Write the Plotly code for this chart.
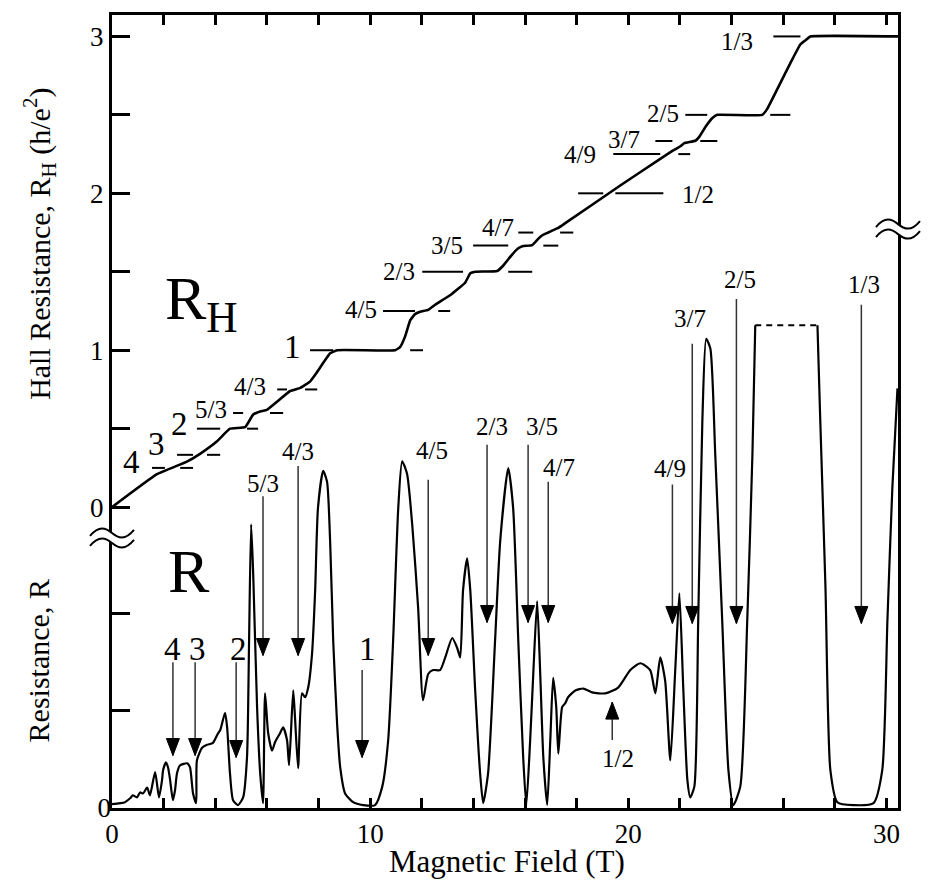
import plotly.graph_objects as go

# ---------------- Hall resistance R_H (h/e^2) versus magnetic field B (T)
hall_B = [0, 1.74, 2.90, 3.41, 4.07, 4.57, 5.16, 5.47, 5.74, 6.00, 6.90, 7.29, 7.67, 7.94,
          8.45, 8.72, 10.97, 11.16, 11.36, 11.55, 11.74, 11.94, 12.25, 12.52, 13.10, 13.68,
          13.88, 14.07, 14.92, 15.16, 15.50, 15.74, 15.90, 16.28, 16.51, 16.67, 16.90, 17.09,
          17.29, 17.56, 19.69, 21.24, 21.71, 22.02, 22.17, 22.60, 22.75, 23.02, 23.26, 23.45,
          25.19, 25.39, 26.28, 26.67, 26.90, 27.05, 30.45]
hall_RH = [0, 0.21, 0.29, 0.34, 0.42, 0.50, 0.51, 0.59, 0.61, 0.62, 0.74, 0.76, 0.80, 0.86,
           0.98, 1.00, 1.00, 1.02, 1.09, 1.19, 1.23, 1.245, 1.257, 1.29, 1.35, 1.43,
           1.49, 1.50, 1.505, 1.54, 1.61, 1.65, 1.663, 1.67, 1.71, 1.733, 1.75, 1.765,
           1.78, 1.81, 2.05, 2.22, 2.27, 2.30, 2.32, 2.335, 2.36, 2.43, 2.48, 2.50,
           2.50, 2.54, 2.83, 2.95, 2.98, 3.00, 3.00]

# ---------------- longitudinal resistance R (arb. units) versus B (T)
res_B = [0.00, 0.50, 0.70, 0.81, 0.97, 1.09, 1.20, 1.36, 1.47, 1.67, 1.82, 1.94, 1.98, 2.09,
         2.17, 2.25, 2.36, 2.44, 2.52, 2.64, 2.91, 3.02, 3.14, 3.26, 3.29, 3.49, 3.68, 3.91,
         4.11, 4.19, 4.38, 4.46, 4.57, 4.69, 4.88, 5.08, 5.23, 5.31, 5.39, 5.47, 5.62, 5.74,
         5.85, 5.93, 6.05, 6.20, 6.32, 6.51, 6.63, 6.78, 6.86, 7.02, 7.09, 7.21, 7.36, 7.48,
         7.60, 7.75, 7.87, 7.98, 8.18, 8.33, 8.45, 8.57, 8.72, 8.84, 9.03, 9.34, 9.73, 10.19,
         10.47, 10.70, 10.89, 11.09, 11.24, 11.43, 11.63, 11.86, 12.05, 12.25, 12.44, 12.71,
         12.91, 13.18, 13.37, 13.49, 13.60, 13.76, 13.88, 14.07, 14.26, 14.38, 14.57, 14.84,
         15.04, 15.35, 15.54, 15.74, 15.93, 16.05, 16.20, 16.32, 16.47, 16.59, 16.71, 16.86,
         16.98, 17.09, 17.21, 17.29, 17.44, 17.56, 17.67, 17.95, 18.26, 18.60, 19.11, 19.61,
         20.08, 20.47, 20.85, 21.05, 21.24, 21.43, 21.63, 21.82, 21.98, 22.13, 22.29, 22.40,
         22.56, 22.71, 22.87, 23.02, 23.18, 23.37, 23.64, 23.88, 24.07, 24.34, 24.61, 24.81,
         24.92]
res_R = [0.04, 0.06, 0.10, 0.13, 0.11, 0.16, 0.15, 0.21, 0.13, 0.37, 0.11, 0.29, 0.39, 0.47,
         0.42, 0.29, 0.08, 0.18, 0.36, 0.44, 0.46, 0.42, 0.15, 0.05, 0.49, 0.62, 0.65, 0.67,
         0.77, 0.80, 0.98, 0.83, 0.36, 0.08, 0.03, 0.11, 0.52, 1.72, 2.92, 2.41, 1.04, 0.36,
         0.05, 1.18, 0.77, 0.59, 0.68, 0.77, 0.83, 0.70, 0.44, 1.21, 0.93, 0.41, 1.18, 1.14,
         1.24, 1.59, 2.24, 3.09, 3.47, 3.36, 2.75, 1.72, 0.87, 0.42, 0.15, 0.06, 0.03, 0.03,
         0.22, 0.70, 1.72, 3.09, 3.57, 3.44, 2.92, 2.06, 1.11, 1.38, 1.42, 1.42,
         1.55, 1.75, 1.65, 1.55, 2.24, 2.57, 2.24, 1.21, 0.36, 0.05, 0.36, 1.72,
         2.75, 3.50, 3.09, 1.72, 0.52, 0.03, 0.70, 1.38, 2.13, 1.38, 0.52, 0.03,
         0.70, 1.34, 1.04, 0.56, 1.04, 1.08, 1.14, 1.21, 1.23, 1.19, 1.18, 1.24,
         1.42, 1.49, 1.42, 1.18, 1.55, 1.31, 0.49, 1.42, 2.21, 1.24, 0.29, 0.11,
         0.22, 1.93, 3.98, 4.83, 4.73, 3.64, 1.93, 0.39, 0.03, 0.22, 1.93, 3.64,
         4.97]
res_top_B = [24.92, 27.33]
res_top_R = [4.97, 4.97]
res_B2 = [27.33, 27.44, 27.64, 27.83, 28.10, 28.72, 29.50, 29.84, 30.04, 30.23, 30.43]
res_R2 = [4.97, 3.98, 2.27, 0.39, 0.06, 0.03, 0.05, 0.39, 1.93, 3.29, 4.32]

# ---------------- quantized Hall plateau marks (h/(nu e^2)) and their extents in B
mark_level = [0.25, 0.25, 1/3, 1/3, 0.5, 0.5, 0.6, 0.6, 0.75, 0.75, 1, 1, 1.25, 1.25,
              1.5, 1.5, 5/3, 5/3, 1.75, 1.75, 2, 2, 2.25, 2.25, 7/3, 7/3, 2.5, 2.5, 3]
mark_lo = [1.55, 2.64, 2.52, 3.68, 3.29, 5.23, 4.69, 6.12, 6.40, 7.48, 7.67, 11.55, 10.50, 12.64,
           12.02, 15.35, 13.99, 16.71, 15.74, 17.36, 18.06, 19.50, 19.42, 21.94, 21.05, 22.79,
           22.21, 25.50, 25.62]
mark_hi = [2.05, 3.14, 3.14, 4.19, 4.19, 5.66, 5.08, 6.63, 6.78, 7.95, 8.57, 12.05, 11.74, 13.10,
           13.60, 16.28, 15.35, 17.29, 16.32, 17.87, 19.03, 21.36, 21.24, 22.40, 21.71, 23.45,
           23.06, 26.28, 26.67]

hall_labels = ["4", "3", "2", "5/3", "4/3", "1", "4/5", "2/3", "3/5", "4/7", "1/2", "4/9", "3/7", "2/5", "1/3"]
hall_lab_B = [0.74, 1.74, 2.60, 3.84, 5.35, 6.98, 9.65, 11.12, 12.98, 14.96, 22.71, 18.14, 19.84, 21.36, 24.22]
hall_lab_RH = [0.29, 0.40, 0.53, 0.62, 0.77, 1.02, 1.26, 1.50, 1.67, 1.78, 1.99, 2.25, 2.34, 2.51, 2.97]

# ---------------- filling-factor arrows on the R trace
arrow_labels = ["4", "3", "2", "5/3", "4/3", "1", "4/5", "2/3", "3/5", "4/7", "1/2", "4/9", "3/7", "2/5", "1/3"]
arrow_B = [2.36, 3.22, 4.81, 5.85, 7.21, 9.69, 12.25, 14.53, 16.12, 16.90, 19.38, 21.71, 22.48, 24.19, 29.03]
arrow_tip = [0.54, 0.54, 0.52, 1.57, 1.57, 0.52, 1.57, 1.91, 1.91, 1.91, 1.09, 1.90, 1.90, 1.90, 1.90]
arrow_tail = [1.50, 1.50, 1.50, 3.21, 3.52, 1.42, 3.38, 3.74, 3.74, 3.36, 0.70, 3.33, 4.78, 5.24, 5.18]
arrow_lab_B = [2.33, 3.33, 4.90, 5.85, 7.21, 9.88, 12.40, 14.73, 16.67, 17.33, 19.61, 21.63, 22.40, 24.34, 29.15]
arrow_lab_R = [1.64, 1.64, 1.64, 3.34, 3.67, 1.64, 3.68, 3.93, 3.93, 3.51, 0.51, 3.50, 5.04, 5.44, 5.39]

SERIF = "Liberation Serif"
INT_LABELS = {"1", "2", "3", "4"}

fig = go.Figure()
fig.add_trace(go.Scatter(x=hall_B, y=hall_RH, mode="lines", yaxis="y",
                         line=dict(color="black", width=2.6, shape="spline", smoothing=0.3),
                         showlegend=False, hoverinfo="skip"))
mx, my = [], []
for lv, lo, hi in zip(mark_level, mark_lo, mark_hi):
    mx += [lo, hi, None]
    my += [lv, lv, None]
fig.add_trace(go.Scatter(x=mx, y=my, mode="lines", yaxis="y",
                         line=dict(color="black", width=2), showlegend=False, hoverinfo="skip"))
fig.add_trace(go.Scatter(x=res_B, y=res_R, mode="lines", yaxis="y2",
                         line=dict(color="black", width=2.2, shape="spline", smoothing=0.6),
                         showlegend=False, hoverinfo="skip"))
fig.add_trace(go.Scatter(x=res_top_B, y=res_top_R, mode="lines", yaxis="y2",
                         line=dict(color="black", width=2.2, dash="6px,5px"), showlegend=False, hoverinfo="skip"))
fig.add_trace(go.Scatter(x=res_B2, y=res_R2, mode="lines", yaxis="y2",
                         line=dict(color="black", width=2.2, shape="spline", smoothing=0.6),
                         showlegend=False, hoverinfo="skip"))

# arrow shafts (one trace) + arrowheads (pixel-sized paths anchored at the data tips)
sx, sy = [], []
for b, tip, tail in zip(arrow_B, arrow_tip, arrow_tail):
    sx += [b, b, None]
    sy += [tail, tip, None]
fig.add_trace(go.Scatter(x=sx, y=sy, mode="lines", yaxis="y2",
                         line=dict(color="#333", width=1.5), showlegend=False, hoverinfo="skip"))
for b, tip, tail in zip(arrow_B, arrow_tip, arrow_tail):
    h = 17 if tail > tip else -17
    fig.add_shape(type="path", xref="x", yref="y2", xsizemode="pixel", ysizemode="pixel",
                  xanchor=b, yanchor=tip, path=f"M-6.5,{h} L6.5,{h} L0,0 Z",
                  fillcolor="black", line=dict(color="black", width=1), layer="above")

for lab, b, r in zip(hall_labels, hall_lab_B, hall_lab_RH):
    fig.add_annotation(x=b, y=r, xref="x", yref="y", text=lab, showarrow=False,
                       xanchor="center", yanchor="middle",
                       font=dict(family=SERIF, size=33 if lab in INT_LABELS else 25, color="black"))

for lab, lb, lr in zip(arrow_labels, arrow_lab_B, arrow_lab_R):
    fig.add_annotation(x=lb, y=lr, xref="x", yref="y2", text=lab, showarrow=False,
                       xanchor="center", yanchor="middle",
                       font=dict(family=SERIF, size=33 if lab in INT_LABELS else 25, color="black"))

# big panel labels
fig.add_annotation(x=0.065, y=0.638, xref="paper", yref="paper", xanchor="left", yanchor="middle",
                   text="R<sub>H</sub>", showarrow=False, font=dict(family=SERIF, size=62, color="black"))
fig.add_annotation(x=0.098, y=0.299, xref="paper", yref="paper", xanchor="center", yanchor="middle",
                   text="R", showarrow=False, font=dict(family=SERIF, size=62, color="black"))

# axis titles
fig.add_annotation(x=-0.092, y=0.711, xref="paper", yref="paper", textangle=-90,
                   xanchor="center", yanchor="middle",
                   text="Hall Resistance, R<sub>H</sub> (h/e<sup>2</sup>)", showarrow=False,
                   font=dict(family=SERIF, size=30, color="black"))
fig.add_annotation(x=-0.094, y=0.185, xref="paper", yref="paper", textangle=-90,
                   xanchor="center", yanchor="middle",
                   text="Resistance, R", showarrow=False, font=dict(family=SERIF, size=30, color="black"))
fig.add_annotation(x=0.503, y=-0.068, xref="paper", yref="paper", xanchor="center", yanchor="middle",
                   text="Magnetic Field (T)", showarrow=False, font=dict(family=SERIF, size=31, color="black"))

# axis-break symbols
def wave(d):
    return f"M-22,{d-3} C-13,{d+8} -6,{d+5} 0,{d} S13,{d-8} 22,{d+3}"

for yp in (0.3405, 0.730):
    xp = 0 if yp < 0.5 else 1
    common = dict(type="path", xref="paper", yref="paper", xsizemode="pixel", ysizemode="pixel",
                  xanchor=xp, yanchor=yp, layer="above")
    fig.add_shape(path=wave(0), line=dict(color="white", width=9), **common)
    fig.add_shape(path=wave(5), line=dict(color="black", width=2), **common)
    fig.add_shape(path=wave(-5), line=dict(color="black", width=2), **common)

tick_style = dict(ticks="inside", tickwidth=3, tickcolor="black")
fig.update_layout(
    width=932, height=887, margin=dict(l=112, r=34, t=12, b=79),
    paper_bgcolor="white", plot_bgcolor="white", showlegend=False,
    font=dict(family=SERIF, color="black"),
    xaxis=dict(range=[0, 30.45], tickmode="array", tickvals=[0, 10, 20, 30], ticklen=10, **tick_style,
               minor=dict(tickmode="array", tickvals=[v for v in range(2, 31, 2) if v % 10], ticklen=10, **tick_style),
               showline=True, linewidth=3, linecolor="black", mirror="ticks",
               showgrid=False, zeroline=False, tickfont=dict(family=SERIF, size=27)),
    yaxis=dict(range=[-1.9175, 3.1365], tickmode="array", tickvals=[0, 1, 2, 3], ticklen=18, **tick_style,
               minor=dict(tickmode="array", tickvals=[0.5, 1.5, 2.5], ticklen=18, **tick_style),
               showline=True, linewidth=3, linecolor="black", mirror=True,
               showgrid=False, zeroline=False, tickfont=dict(family=SERIF, size=27)),
    yaxis2=dict(range=[0, 8.164], overlaying="y", side="left", tickmode="array", tickvals=[0], ticklen=18,
                **tick_style,
                minor=dict(tickmode="array", tickvals=[1, 2], ticklen=18, **tick_style),
                showline=False, showgrid=False, zeroline=False, tickfont=dict(family=SERIF, size=27)),
)

fig.write_html("out.html")
